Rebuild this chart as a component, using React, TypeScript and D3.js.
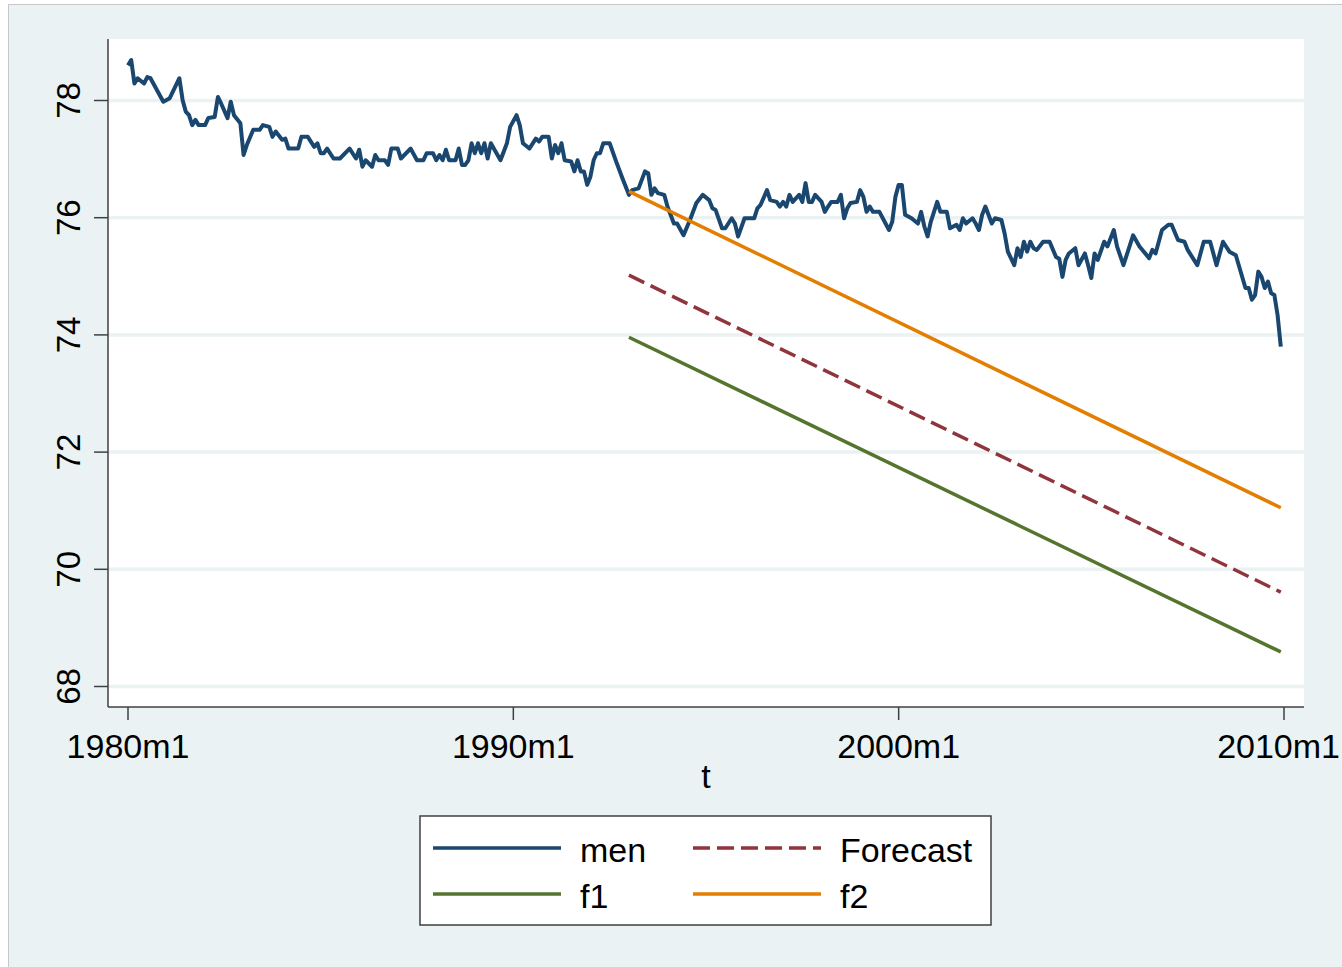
import React from 'react';
import * as d3 from 'd3';

// months since 1980m1
const menMonth = [
  0, 1, 2, 3, 5, 6, 7, 11, 13, 16, 17, 18, 19, 20, 21, 22, 24, 25, 27, 28, 29, 31, 32, 33, 35, 36, 37, 39, 41, 42,
  44, 45, 46, 48, 49, 50, 53, 54, 56, 58, 59, 60, 61, 62, 64, 66, 69, 71, 72, 73, 74, 76, 77, 78, 80, 81, 82, 84, 85, 88,
  90, 92, 93, 95, 96, 97, 98, 99, 100, 102, 103, 104, 105, 106, 107, 108, 109, 110, 111, 112, 113, 116, 118, 119, 121, 122, 123, 125, 127, 128,
  129, 131, 132, 133, 134, 135, 136, 138, 139, 140, 141, 142, 143, 144, 145, 146, 147, 148, 150, 152, 154, 156, 157, 159, 161, 162, 163, 164, 165, 167,
  168, 170, 171, 173, 175, 177, 179, 181, 182, 183, 185, 186, 188, 189, 190, 192, 195, 196, 197, 199, 200, 202, 203, 204, 205, 206, 207, 209, 210, 211,
  212, 213, 214, 216, 217, 218, 219, 221, 222, 223, 224, 225, 227, 228, 229, 230, 231, 232, 234, 237, 238, 239, 240, 241, 242, 244, 246, 247, 248, 249,
  250, 252, 253, 255, 256, 258, 259, 260, 261, 263, 264, 265, 266, 267, 269, 270, 272, 273, 274, 276, 277, 278, 279, 280, 281, 282, 283, 285, 287, 289,
  290, 291, 292, 293, 295, 296, 298, 299, 300, 301, 302, 304, 305, 307, 308, 310, 313, 315, 318, 319, 320, 322, 324, 325, 327, 329, 330, 333, 335, 337,
  339, 341, 343, 345, 348, 349, 350, 351, 352, 353, 354, 355, 356, 357, 358, 359,
];
const menValue = [
  78.6, 78.69, 78.29, 78.38, 78.29, 78.4, 78.38, 77.98, 78.04, 78.38, 78.01, 77.81, 77.75, 77.58, 77.67, 77.58, 77.58, 77.7, 77.72, 78.06, 77.95, 77.7, 77.98, 77.75, 77.61, 77.07, 77.24, 77.5, 77.5, 77.58,
  77.55, 77.38, 77.47, 77.33, 77.35, 77.18, 77.18, 77.38, 77.38, 77.21, 77.27, 77.1, 77.1, 77.18, 77.01, 77.01, 77.18, 77.01, 77.16, 76.87, 76.98, 76.87, 77.07, 76.98, 76.98, 76.9, 77.18, 77.18, 77.01, 77.18,
  76.98, 76.98, 77.1, 77.1, 76.98, 77.07, 76.98, 77.16, 76.98, 76.98, 77.18, 76.9, 76.9, 76.98, 77.27, 77.1, 77.27, 77.1, 77.27, 77.01, 77.27, 76.98, 77.27, 77.55, 77.75, 77.58, 77.27, 77.18, 77.35, 77.3,
  77.38, 77.38, 77.01, 77.24, 77.1, 77.27, 76.98, 76.96, 76.79, 76.98, 76.79, 76.79, 76.56, 76.7, 76.98, 77.1, 77.1, 77.27, 77.27, 76.96, 76.67, 76.39, 76.47, 76.5, 76.79, 76.76, 76.39, 76.5, 76.42, 76.39,
  76.19, 75.9, 75.9, 75.7, 75.96, 76.25, 76.39, 76.3, 76.16, 76.13, 75.82, 75.82, 75.99, 75.9, 75.68, 75.99, 75.99, 76.16, 76.22, 76.47, 76.3, 76.27, 76.19, 76.27, 76.19, 76.39, 76.27, 76.39, 76.27, 76.59,
  76.27, 76.27, 76.39, 76.27, 76.1, 76.19, 76.27, 76.27, 76.39, 75.99, 76.16, 76.25, 76.27, 76.47, 76.36, 76.1, 76.19, 76.1, 76.1, 75.79, 75.93, 76.36, 76.56, 76.56, 76.05, 75.99, 75.9, 76.1, 75.85, 75.68,
  75.93, 76.27, 76.1, 76.1, 75.82, 75.88, 75.79, 75.99, 75.9, 75.99, 75.9, 75.79, 76.05, 76.19, 75.9, 75.99, 75.96, 75.73, 75.42, 75.19, 75.48, 75.33, 75.59, 75.42, 75.59, 75.48, 75.45, 75.59, 75.59, 75.33,
  75.3, 74.99, 75.28, 75.39, 75.48, 75.19, 75.39, 75.19, 74.97, 75.39, 75.28, 75.59, 75.51, 75.79, 75.51, 75.19, 75.7, 75.51, 75.31, 75.45, 75.39, 75.79, 75.88, 75.88, 75.62, 75.59, 75.45, 75.19, 75.59, 75.59,
  75.19, 75.59, 75.42, 75.36, 74.8, 74.8, 74.6, 74.68, 75.08, 74.99, 74.8, 74.91, 74.71, 74.68, 74.34, 73.8,
];

// forecast lines start at 1993m1 and run to the end of the sample
const fcMonth = [156, 359];
const forecastValue = [75.02, 69.61];
const f1Value = [73.96, 68.59];
const f2Value = [76.45, 71.05];

const yTicks = [68, 70, 72, 74, 76, 78];
const xTicks = [0, 120, 240, 360];
const xTickLabels = ['1980m1', '1990m1', '2000m1', '2010m1'];

const C = {
  bg: '#eaf2f3',
  men: '#1a476f',
  forecast: '#90353b',
  f1: '#55752f',
  f2: '#e37e00',
};

const font = '"Liberation Sans", Arial, sans-serif';

export default function App() {
  const W = 1342, H = 967;
  const plot = { left: 108, right: 1304, top: 39, bottom: 707 };

  const x = d3.scaleLinear().domain([0, 360]).range([128, 1284]);
  const y = d3.scaleLinear().domain([68, 78]).range([686.5, 100.5]);

  const line = d3.line<[number, number]>().x(d => x(d[0])).y(d => y(d[1]));
  const men = line(menMonth.map((m, i) => [m, menValue[i]]));
  const fc = line(fcMonth.map((m, i) => [m, forecastValue[i]]));
  const f1 = line(fcMonth.map((m, i) => [m, f1Value[i]]));
  const f2 = line(fcMonth.map((m, i) => [m, f2Value[i]]));

  const legend = [
    { label: 'men', color: C.men, dash: undefined, col: 0, row: 0 },
    { label: 'Forecast', color: C.forecast, dash: '17,7', col: 1, row: 0 },
    { label: 'f1', color: C.f1, dash: undefined, col: 0, row: 1 },
    { label: 'f2', color: C.f2, dash: undefined, col: 1, row: 1 },
  ];

  return (
    <>
      <style>{`body{margin:0}`}</style>
      <svg width={W} height={H} style={{ display: 'block', fontFamily: font }}>
        <rect x={0} y={0} width={W} height={H} fill="#fff" />
        <rect x={8.5} y={4.5} width={W} height={H} fill={C.bg} stroke="#c8c8c8" strokeWidth={1} />
        <rect x={plot.left} y={plot.top} width={plot.right - plot.left} height={plot.bottom - plot.top} fill="#fff" />

        {yTicks.map(t => (
          <line key={t} x1={plot.left} x2={plot.right} y1={y(t)} y2={y(t)} stroke={C.bg} strokeWidth={3.5} />
        ))}

        {/* axes */}
        <line x1={plot.left} x2={plot.left} y1={plot.top} y2={plot.bottom} stroke="#404040" strokeWidth={1.5} />
        <line x1={plot.left} x2={plot.right} y1={plot.bottom} y2={plot.bottom} stroke="#404040" strokeWidth={1.5} />
        {yTicks.map(t => (
          <g key={t}>
            <line x1={94} x2={plot.left} y1={y(t)} y2={y(t)} stroke="#404040" strokeWidth={1.5} />
            <text transform={`translate(80,${y(t)}) rotate(-90)`} textAnchor="middle" fontSize={33} fill="#000">
              {t}
            </text>
          </g>
        ))}
        {xTicks.map((t, i) => {
          // last label would run past the right edge, so pin it to the edge
          const last = i === xTicks.length - 1;
          return (
            <g key={t}>
              <line x1={x(t)} x2={x(t)} y1={plot.bottom} y2={plot.bottom + 13} stroke="#404040" strokeWidth={1.5} />
              <text x={last ? W - 2 : x(t)} y={758} textAnchor={last ? 'end' : 'middle'} fontSize={34} fill="#000">
                {xTickLabels[i]}
              </text>
            </g>
          );
        })}
        <text x={(plot.left + plot.right) / 2} y={788} textAnchor="middle" fontSize={34} fill="#000">t</text>

        {/* series */}
        <path d={men || ''} fill="none" stroke={C.men} strokeWidth={4} strokeLinejoin="round" />
        <path d={fc || ''} fill="none" stroke={C.forecast} strokeWidth={3.5} strokeDasharray="17,7" />
        <path d={f1 || ''} fill="none" stroke={C.f1} strokeWidth={3.5} />
        <path d={f2 || ''} fill="none" stroke={C.f2} strokeWidth={3.5} />

        {/* legend */}
        <rect x={420} y={816} width={571} height={109} fill="#fff" stroke="#404040" strokeWidth={1.5} />
        {legend.map(l => {
          const lx = l.col === 0 ? 433 : 693;
          const ly = l.row === 0 ? 848 : 894;
          return (
            <g key={l.label}>
              <line x1={lx} x2={lx + 128} y1={ly} y2={ly} stroke={l.color} strokeWidth={3.5} strokeDasharray={l.dash} />
              <text x={lx + 147} y={ly + 14} fontSize={34} fill="#000">{l.label}</text>
            </g>
          );
        })}
      </svg>
    </>
  );
}
